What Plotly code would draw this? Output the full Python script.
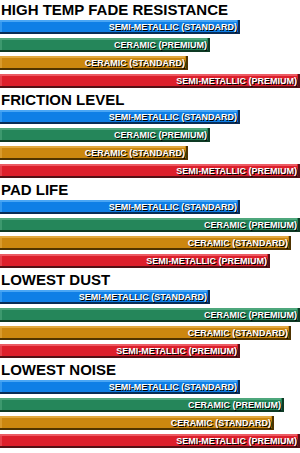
import plotly.graph_objects as go

# ---- data ----
sections = ["HIGH TEMP FADE RESISTANCE", "FRICTION LEVEL", "PAD LIFE", "LOWEST DUST", "LOWEST NOISE"]
pads = ["SEMI-METALLIC (STANDARD)", "CERAMIC (PREMIUM)", "CERAMIC (STANDARD)", "SEMI-METALLIC (PREMIUM)"]
semi_metallic_standard = [8.0, 8.0, 8.0, 7.0, 8.0]
ceramic_premium = [7.0, 7.0, 10.0, 10.0, 9.45]
ceramic_standard = [6.27, 6.27, 9.7, 9.7, 9.13]
semi_metallic_premium = [10.0, 10.0, 9.0, 8.0, 10.0]

series = [semi_metallic_standard, ceramic_premium, ceramic_standard, semi_metallic_premium]

# ---- styles ----
face_colors = ["#0f7fe6", "#25865a", "#cc870f", "#dc1f2b"]
light_colors = ["#4aa6f4", "#4ea77c", "#e2a840", "#ec5a63"]
dark_colors = ["#0a2c55", "#0e3a24", "#4f3300", "#541015"]

SLOT = 18.0  # px per slot
H = 453
W = 300
XMAX = 10.0
px_x = XMAX / W

ys, xs, names, fc, lc, dc = [], [], [], [], [], []
for s in range(len(sections)):
    for p in range(len(pads)):
        ys.append(s * 5 + p + 1)
        xs.append(series[p][s])
        names.append(pads[p])
        fc.append(face_colors[p])
        lc.append(light_colors[p])
        dc.append(dark_colors[p])

bw = 14 / SLOT
off = -bw / 2

fig = go.Figure()
# shadow / dark body
fig.add_trace(go.Bar(orientation="h", y=ys, x=xs, width=bw, offset=off,
                     marker=dict(color=dc, line=dict(width=0)), hoverinfo="skip"))
# face
fig.add_trace(go.Bar(orientation="h", y=ys, x=[v - 2 * px_x for v in xs], width=12 / SLOT, offset=off,
                     marker=dict(color=fc, line=dict(width=0)), hoverinfo="skip"))
# top highlight
fig.add_trace(go.Bar(orientation="h", y=ys, x=[v - 3 * px_x for v in xs], width=1.5 / SLOT, offset=off,
                     marker=dict(color=lc, line=dict(width=0)), hoverinfo="skip"))
# left highlight
fig.add_trace(go.Bar(orientation="h", y=ys, x=[2 * px_x for v in xs], width=12 / SLOT, offset=off,
                     marker=dict(color=lc, opacity=0.6, line=dict(width=0)), hoverinfo="skip"))
# labels
fig.add_trace(go.Bar(orientation="h", y=ys, x=xs, width=bw, offset=off,
                     marker=dict(color="rgba(0,0,0,0)", line=dict(width=0)),
                     text=names, textposition="inside", insidetextanchor="end", textangle=0,
                     textfont=dict(family="Liberation Sans, Arial, sans-serif", size=9, color="white",
                                   weight="bold", shadow="1px 1px 0px #000"),
                     cliponaxis=False, hoverinfo="skip"))

for s, title in enumerate(sections):
    fig.add_annotation(x=0, xref="paper", y=s * 5, yref="y", text=title, showarrow=False,
                       xanchor="left", yanchor="middle", xshift=-1, yshift=0,
                       font=dict(family="Liberation Sans, Arial, sans-serif", size=15, color="#000",
                                 weight="bold"))

fig.update_layout(
    width=W, height=H, margin=dict(l=0, r=0, t=0, b=0),
    paper_bgcolor="white", plot_bgcolor="white",
    barmode="overlay", showlegend=False, bargap=0,
    uniformtext=dict(minsize=9, mode="show"),
    xaxis=dict(range=[0, XMAX], visible=False, fixedrange=True),
    yaxis=dict(range=[-0.5 + H / SLOT, -0.5], visible=False, fixedrange=True),
)

fig.write_html("out.html", config={"displayModeBar": False})
